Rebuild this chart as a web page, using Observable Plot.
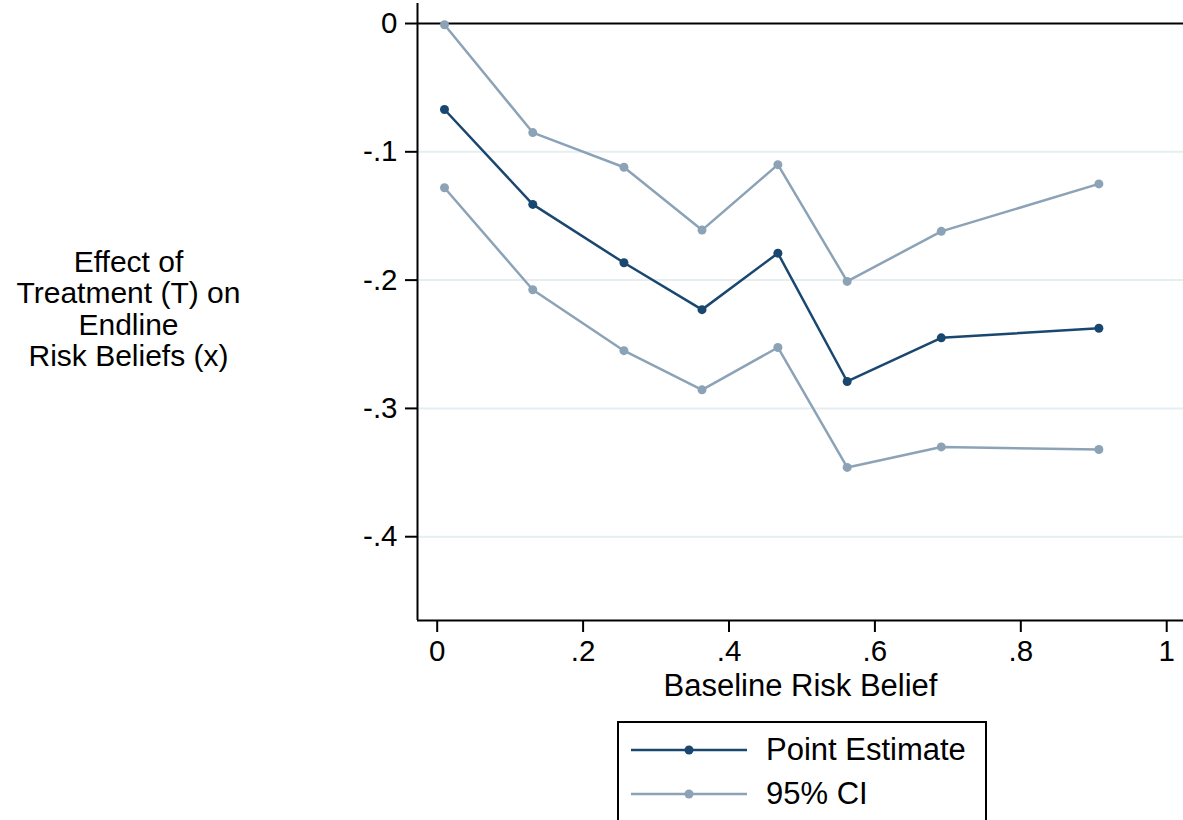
<!DOCTYPE html>
<html>
<head>
<meta charset="utf-8">
<script src="https://cdn.jsdelivr.net/npm/d3@7"></script>
<script src="https://cdn.jsdelivr.net/npm/@observablehq/plot@0.6"></script>
<style>
  html, body { margin: 0; padding: 0; background: #fff; }
  body { font-family: "Liberation Sans", Arial, Helvetica, sans-serif; }
  #wrap { position: relative; width: 1183px; height: 820px; overflow: hidden; }
  #legend { position: absolute; left: 617px; top: 721px; width: 370px; height: 120px;
            border: 2px solid #000; box-sizing: border-box; background: #fff; }
  .lrow { position: absolute; left: 0; height: 30px; }
  .lrow svg { position: absolute; left: 11px; top: 0; }
  .lrow span { position: absolute; left: 147px; top: 0; line-height: 30px; font-size: 31px; color: #000; white-space: nowrap; }
</style>
</head>
<body>
<div id="wrap">
  <div id="chart"></div>
  <div id="legend"></div>
</div>
<script>
// ---- data ----
const baselineRisk = [0.010, 0.131, 0.256, 0.363, 0.467, 0.562, 0.691, 0.907];
const pointEstimate = [-0.067, -0.141, -0.1865, -0.223, -0.179, -0.279, -0.245, -0.2375];
const ciUpper = [-0.001, -0.085, -0.112, -0.161, -0.110, -0.201, -0.162, -0.125];
const ciLower = [-0.128, -0.2075, -0.255, -0.2855, -0.2525, -0.346, -0.330, -0.332];
const xTicks = [0, 0.2, 0.4, 0.6, 0.8, 1];
const yTicks = [0, -0.1, -0.2, -0.3, -0.4];
const seriesNames = ["Point Estimate", "95% CI"];
const xTitle = "Baseline Risk Belief";
const yTitle = "Effect of\nTreatment (T) on\nEndline\nRisk Beliefs (x)";

// ---- styling ----
const navy = "#1a476f";
const ciColor = "#8ca3b7";
const gridColor = "#e6eef1";
const fmt = d => d === 0 ? "0" : String(d).replace("0.", ".");

const est = baselineRisk.map((x, i) => ({x, y: pointEstimate[i]}));
const upper = baselineRisk.map((x, i) => ({x, y: ciUpper[i]}));
const lower = baselineRisk.map((x, i) => ({x, y: ciLower[i]}));

const xDomain = [-0.027, 1.023];
const yDomain = [-0.4653, 0.0156];

const chart = Plot.plot({
  width: 1183,
  height: 712,
  marginLeft: 417,
  marginRight: 0,
  marginTop: 3,
  marginBottom: 92,
  style: {fontFamily: '"Liberation Sans", Arial, Helvetica, sans-serif', fontSize: "29.5px", color: "#000", background: "#fff", overflow: "visible"},
  x: {domain: xDomain, axis: null},
  y: {domain: yDomain, axis: null},
  marks: [
    Plot.gridY(yTicks.filter(d => d !== 0), {stroke: gridColor, strokeOpacity: 1, strokeWidth: 2}),
    Plot.ruleY([0], {stroke: "#000", strokeWidth: 2}),
    Plot.ruleX([xDomain[0]], {stroke: "#000", strokeWidth: 2}),
    Plot.ruleY([yDomain[0]], {stroke: "#000", strokeWidth: 2}),
    Plot.axisY(yTicks, {anchor: "left", tickSize: 12, tickPadding: 8, tickFormat: fmt, strokeWidth: 2, label: null, fill: "#000"}),
    Plot.axisX(xTicks, {anchor: "bottom", tickSize: 12, tickPadding: 8, tickFormat: fmt, strokeWidth: 2, label: null, fill: "#000"}),
    Plot.line(upper, {x: "x", y: "y", stroke: ciColor, strokeWidth: 2.5}),
    Plot.line(lower, {x: "x", y: "y", stroke: ciColor, strokeWidth: 2.5}),
    Plot.dot(upper, {x: "x", y: "y", fill: ciColor, r: 4.5}),
    Plot.dot(lower, {x: "x", y: "y", fill: ciColor, r: 4.5}),
    Plot.line(est, {x: "x", y: "y", stroke: navy, strokeWidth: 2.5}),
    Plot.dot(est, {x: "x", y: "y", fill: navy, r: 4.5}),
    Plot.text([xTitle], {frameAnchor: "bottom", dy: 66, lineAnchor: "middle", textAnchor: "middle", fill: "#000", fontSize: 31}),
    Plot.text([yTitle], {frameAnchor: "left", dx: -289, dy: -3, lineAnchor: "middle", textAnchor: "middle", lineHeight: 1.04, fill: "#000", fontSize: 30})
  ]
});
document.getElementById("chart").appendChild(chart);

// ---- legend ----
const legend = document.getElementById("legend");
const legendColors = [navy, ciColor];
const rowTops = [12, 56];
seriesNames.forEach((name, i) => {
  const row = document.createElement("div");
  row.className = "lrow";
  row.style.top = rowTops[i] + "px";
  row.innerHTML = `<svg width="118" height="30"><line x1="1" x2="117" y1="15" y2="15" stroke="${legendColors[i]}" stroke-width="2.5"/><circle cx="59" cy="15" r="4.5" fill="${legendColors[i]}"/></svg><span>${name}</span>`;
  legend.appendChild(row);
});
</script>
</body>
</html>
